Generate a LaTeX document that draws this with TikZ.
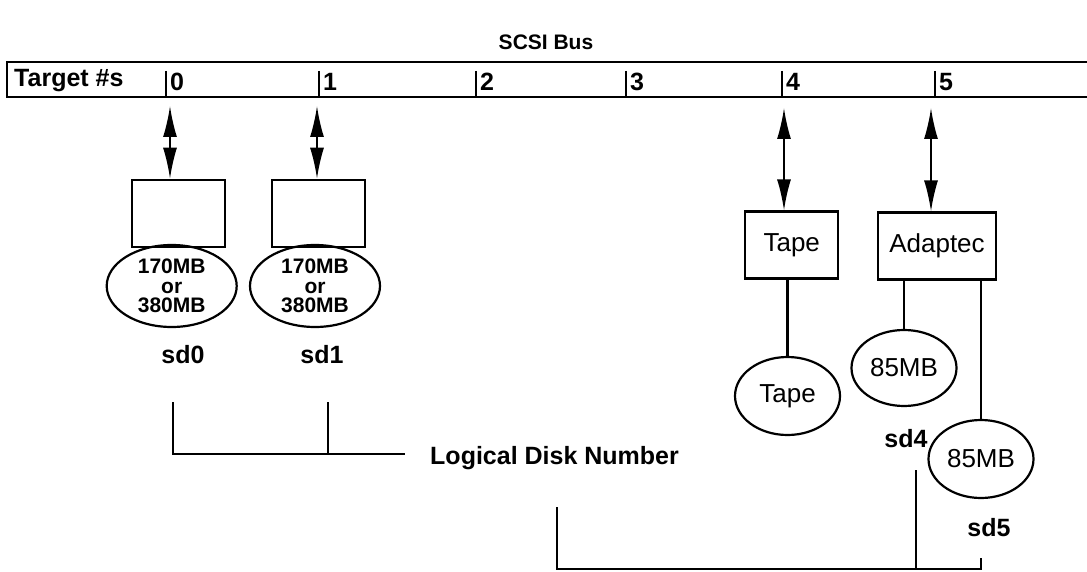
\documentclass[tikz,border=0pt]{standalone}
\usepackage{fontspec}
\setmainfont{Liberation Sans}
\usetikzlibrary{arrows.meta}
\usetikzlibrary{shapes.geometric}

\tikzset{
  bus/.style={line width=2.8pt},
  link/.style={line width=2.2pt},
  biarrow/.style={line width=1.8pt,{Latex[length=31pt,width=14pt]}-{Latex[length=31pt,width=14pt]}},
  ctlbox/.style={draw,line width=2.2pt,minimum width=93pt,minimum height=67pt,inner sep=0pt},
  disk/.style={draw,ellipse,line width=2.2pt,inner sep=0pt},
  lbl/.style={font=\fontsize{25}{25}\selectfont\bfseries,inner sep=0pt},
  lblr/.style={font=\fontsize{26}{26}\selectfont,inner sep=0pt},
  disklbl/.style={font=\fontsize{21}{19.5}\selectfont\bfseries,inner sep=0pt},
}

\begin{document}
\begin{tikzpicture}[x=1pt,y=1pt,yscale=-1,xscale=1]
        \useasboundingbox (0,0) rectangle (1087,572);
        % Text Node
        \node[font=\fontsize{21}{21}\selectfont\bfseries,inner sep=0pt] (title) at (546,42) {SCSI Bus};
        %Shape: Bus bar
        \draw[bus] (1087,62) -- (7,62) -- (7,97) -- (1087,97);
        \node[lbl,anchor=west] (tgt) at (14,81) {Target \#s};
        \foreach \x/\n in {166/0,319/1,476/2,626/3,782/4,935/5} {
          \draw[link] (\x,71) -- (\x,97);
          \node[lbl,anchor=west] (id\n) at (\x+4,82) {\n};
        }

        %Shape: Controllers
        \node[ctlbox] (ctl0) at (178.3,213.3) {};
        \node[ctlbox] (ctl1) at (318.3,213.3) {};
        \node[ctlbox] (tape) at (791.7,245) {};
        \node[ctlbox,minimum width=118pt] (adp) at (937,246) {};
        \node[lblr] at (tape) {Tape};
        \node[lblr] at (adp) {Adaptec};

        %Shape: Bus arrows
        \coordinate (a0) at (170,106);
        \coordinate (a1) at (317,106);
        \coordinate (a4) at (784,108);
        \coordinate (a5) at (931,108);
        \draw[biarrow] (a0) -- (a0 |- ctl0.north);
        \draw[biarrow] (a1) -- (a1 |- ctl1.north);
        \draw[biarrow] (a4) -- (a4 |- tape.north);
        \draw[biarrow] (a5) -- (a5 |- adp.north);

        %Shape: Disks
        \node[disk,disklbl,minimum width=130pt,minimum height=82pt,align=center] (d0) at (171.7,286) {170MB\\or\\380MB};
        \node[disk,disklbl,minimum width=130pt,minimum height=82pt,align=center] (d1) at (315,286) {170MB\\or\\380MB};
        \node[disk,lblr,minimum width=105pt,minimum height=78pt] (tdisk) at (787.5,396) {Tape};
        \node[disk,lblr,minimum width=105pt,minimum height=76pt] (d4) at (904,368) {85MB};
        \node[disk,lblr,minimum width=105pt,minimum height=78pt] (d5) at (981,459) {85MB};

        %Straight Lines
        \draw[link] (tdisk.north) -- (tdisk.north |- tape.south);
        \draw[link] (d4.north) -- (d4.north |- adp.south);
        \draw[link] (d5.north) -- (d5.north |- adp.south);

        % Text Node
        \node[lbl] (sd0) at (183,355) {sd0};
        \node[lbl] (sd1) at (322,355) {sd1};
        \node[lbl] (sd4) at (906,439) {sd4};
        \node[lbl] (sd5) at (989,528) {sd5};
        \node[lbl,anchor=west] (ldn) at (430,458) {Logical Disk Number};

        %Straight Lines: brackets
        \coordinate (b0) at (173,402);
        \coordinate (b1) at (328,402);
        \coordinate (bend) at (405,454);
        \draw[link] (b0) -- (b0 |- bend) -- (bend);
        \draw[link] (b1) -- (b1 |- bend);
        \coordinate (c0) at (557,507);
        \coordinate (c4) at (916,470);
        \coordinate (c5) at (981,558);
        \coordinate (cbot) at (981,569);
        \draw[link] (c0) -- (c0 |- cbot) -- (cbot) -- (c5);
        \draw[link] (c4) -- (c4 |- cbot);
\end{tikzpicture}
\end{document}
